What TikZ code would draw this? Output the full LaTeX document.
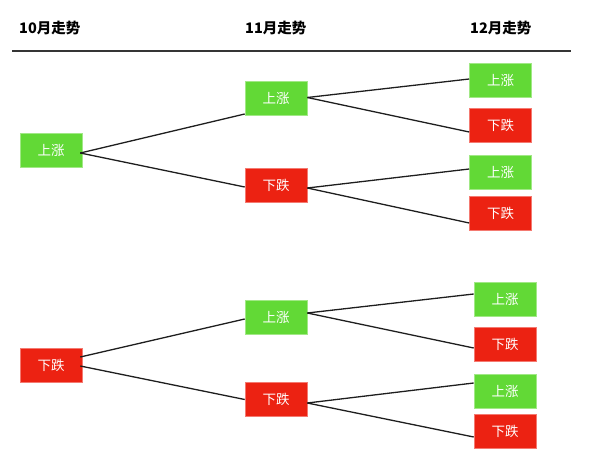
\documentclass[tikz,border=0pt]{standalone}
\usepackage{fontspec}
\setmainfont{Noto Sans CJK SC}
\definecolor{upgreen}{RGB}{98,217,54}
\definecolor{downred}{RGB}{236,34,18}
\definecolor{linegray}{RGB}{30,30,30}
\tikzset{
  box/.style={minimum width=62pt,minimum height=34pt,inner sep=0pt,text=white,font=\fontsize{13.5}{15}\selectfont},
  upbox/.style={box,fill=upgreen,draw=upgreen!60!white,line width=0.6pt},
  downbox/.style={box,fill=downred,draw=downred!60!white,line width=0.6pt},
  head/.style={anchor=west,inner sep=0pt,font=\fontsize{14.5}{16}\selectfont\bfseries},
  conn/.style={draw=linegray,line width=1.3pt}
}
\begin{document}
\begin{tikzpicture}[x=1pt,y=-1pt]
\useasboundingbox (0,0) rectangle (591,473);
% header
\node[head] (h10) at (19,28) {10月走势};
\node[head] (h11) at (245,28) {11月走势};
\node[head] (h12) at (470,28) {12月走势};
\coordinate (hl) at (12,51);
\coordinate (hr) at (571,51);
\draw[draw=linegray!90,line width=1.3pt] (hl) -- (hr);
% top tree
\node[upbox] (a0) at (51,150.5) {上涨};
\node[upbox] (a1) at (276,98) {上涨};
\node[downbox] (a2) at (276,185) {下跌};
\node[upbox] (a3) at (500.5,80) {上涨};
\node[downbox] (a4) at (500.5,125) {下跌};
\node[upbox] (a5) at (500.5,172.5) {上涨};
\node[downbox] (a6) at (500.5,213) {下跌};
% bottom tree
\node[downbox] (b0) at (51,365) {下跌};
\node[upbox] (b1) at (276,317) {上涨};
\node[downbox] (b2) at (276,399.5) {下跌};
\node[upbox] (b3) at (505,299) {上涨};
\node[downbox] (b4) at (505,344) {下跌};
\node[upbox] (b5) at (505,391) {上涨};
\node[downbox] (b6) at (505,431.5) {下跌};
% connectors top
\draw[conn] ([xshift=-2pt,yshift=-2.5pt]a0.east) -- ([yshift=-16pt]a1.west);
\draw[conn] ([xshift=-2pt,yshift=-2.5pt]a0.east) -- ([yshift=-2pt]a2.west);
\draw[conn] ([yshift=0.5pt]a1.east) -- ([yshift=1pt]a3.west);
\draw[conn] ([yshift=0.5pt]a1.east) -- ([yshift=-7pt]a4.west);
\draw[conn] ([yshift=-3pt]a2.east) -- ([yshift=3.5pt]a5.west);
\draw[conn] ([yshift=-3pt]a2.east) -- ([yshift=-10pt]a6.west);
% connectors bottom
\draw[conn] ([xshift=-2pt,yshift=8pt]b0.east) -- ([yshift=-2pt]b1.west);
\draw[conn] ([xshift=-2pt,yshift=-1pt]b0.east) -- ([yshift=0pt]b2.west);
\draw[conn] ([yshift=4pt]b1.east) -- ([yshift=5pt]b3.west);
\draw[conn] ([yshift=4pt]b1.east) -- ([yshift=-4pt]b4.west);
\draw[conn] ([yshift=-3.5pt]b2.east) -- ([yshift=8pt]b5.west);
\draw[conn] ([yshift=-3.5pt]b2.east) -- ([yshift=-5.5pt]b6.west);
\end{tikzpicture}
\end{document}
